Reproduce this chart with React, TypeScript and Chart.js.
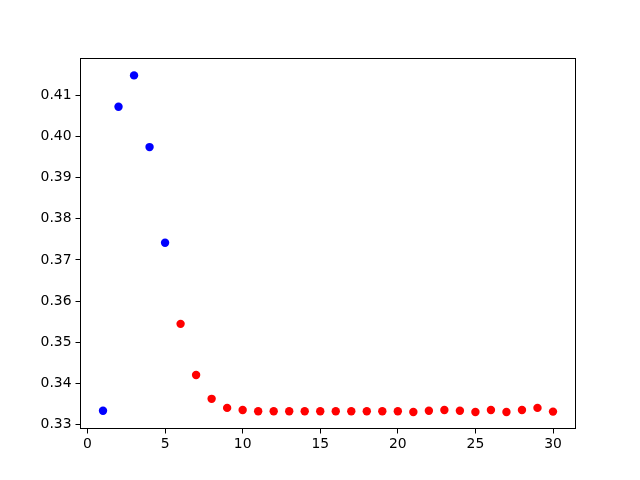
import React, { useEffect, useRef } from "react";
import { Chart, registerables } from "chart.js";

Chart.register(...registerables);

const blueX = [1, 2, 3, 4, 5];
const blueY = [0.3334, 0.4072, 0.4148, 0.3974, 0.3742];
const redX = [6, 7, 8, 9, 10, 11, 12, 13, 14, 15, 16, 17, 18, 19, 20, 21, 22, 23, 24, 25, 26, 27, 28, 29, 30];
const redY = [
  0.3545, 0.3421, 0.3363, 0.3341, 0.3336, 0.3333, 0.3333, 0.3333, 0.3333, 0.3333,
  0.3333, 0.3333, 0.3333, 0.3333, 0.3333, 0.3331, 0.3334, 0.3336, 0.3334, 0.3331,
  0.3336, 0.3331, 0.3336, 0.3341, 0.3332,
];
const xTicks = [0, 5, 10, 15, 20, 25, 30];
const yTicks = [0.33, 0.34, 0.35, 0.36, 0.37, 0.38, 0.39, 0.4, 0.41];

const FONT = "'DejaVu Sans', sans-serif";

const framePlugin = {
  id: "frame",
  afterDraw(chart: any) {
    const { ctx, chartArea } = chart;
    ctx.save();
    ctx.strokeStyle = "#000";
    ctx.lineWidth = 1;
    ctx.strokeRect(chartArea.left, chartArea.top, chartArea.right - chartArea.left, chartArea.bottom - chartArea.top);
    ctx.restore();
  },
};

export default function App() {
  const ref = useRef<HTMLCanvasElement | null>(null);
  useEffect(() => {
    const chart = new Chart(ref.current as HTMLCanvasElement, {
      type: "scatter",
      data: {
        datasets: [
          {
            data: blueX.map((x, i) => ({ x, y: blueY[i] })),
            backgroundColor: "#0000ff",
            borderColor: "#0000ff",
            pointRadius: 4.2,
            borderWidth: 0,
          },
          {
            data: redX.map((x, i) => ({ x, y: redY[i] })),
            backgroundColor: "#ff0000",
            borderColor: "#ff0000",
            pointRadius: 4.2,
            borderWidth: 0,
          },
        ],
      },
      options: {
        animation: false,
        responsive: false,
        layout: { padding: { left: 0.5, right: 64.5, top: 58.5, bottom: 0 } },
        plugins: { legend: { display: false }, tooltip: { enabled: false } },
        scales: {
          x: {
            type: "linear",
            min: -0.45,
            max: 31.45,
            afterBuildTicks: (axis: any) => {
              axis.ticks = xTicks.map((v) => ({ value: v }));
            },
            afterFit: (axis: any) => {
              axis.height = 51.5;
            },
            grid: { drawOnChartArea: false, drawTicks: true, tickLength: 5, color: "#000", lineWidth: 1 },
            border: { display: false },
            ticks: { color: "#000", font: { family: FONT, size: 13.9 }, padding: 3, maxRotation: 0 },
          },
          y: {
            type: "linear",
            min: 0.3291,
            max: 0.4189,
            afterBuildTicks: (axis: any) => {
              axis.ticks = yTicks.map((v) => ({ value: v }));
            },
            afterFit: (axis: any) => {
              axis.width = 80;
            },
            grid: { drawOnChartArea: false, drawTicks: true, tickLength: 5, color: "#000", lineWidth: 1 },
            border: { display: false },
            ticks: {
              color: "#000",
              font: { family: FONT, size: 13.9 },
              padding: 4,
              callback: (v: any) => Number(v).toFixed(2),
            },
          },
        },
      },
      plugins: [framePlugin],
    } as any);
    return () => chart.destroy();
  }, []);
  return (
    <div style={{ position: "fixed", left: 0, top: 0, width: 640, height: 480, background: "#fff" }}>
      <canvas ref={ref} width={640} height={480} style={{ width: 640, height: 480 }} />
    </div>
  );
}
